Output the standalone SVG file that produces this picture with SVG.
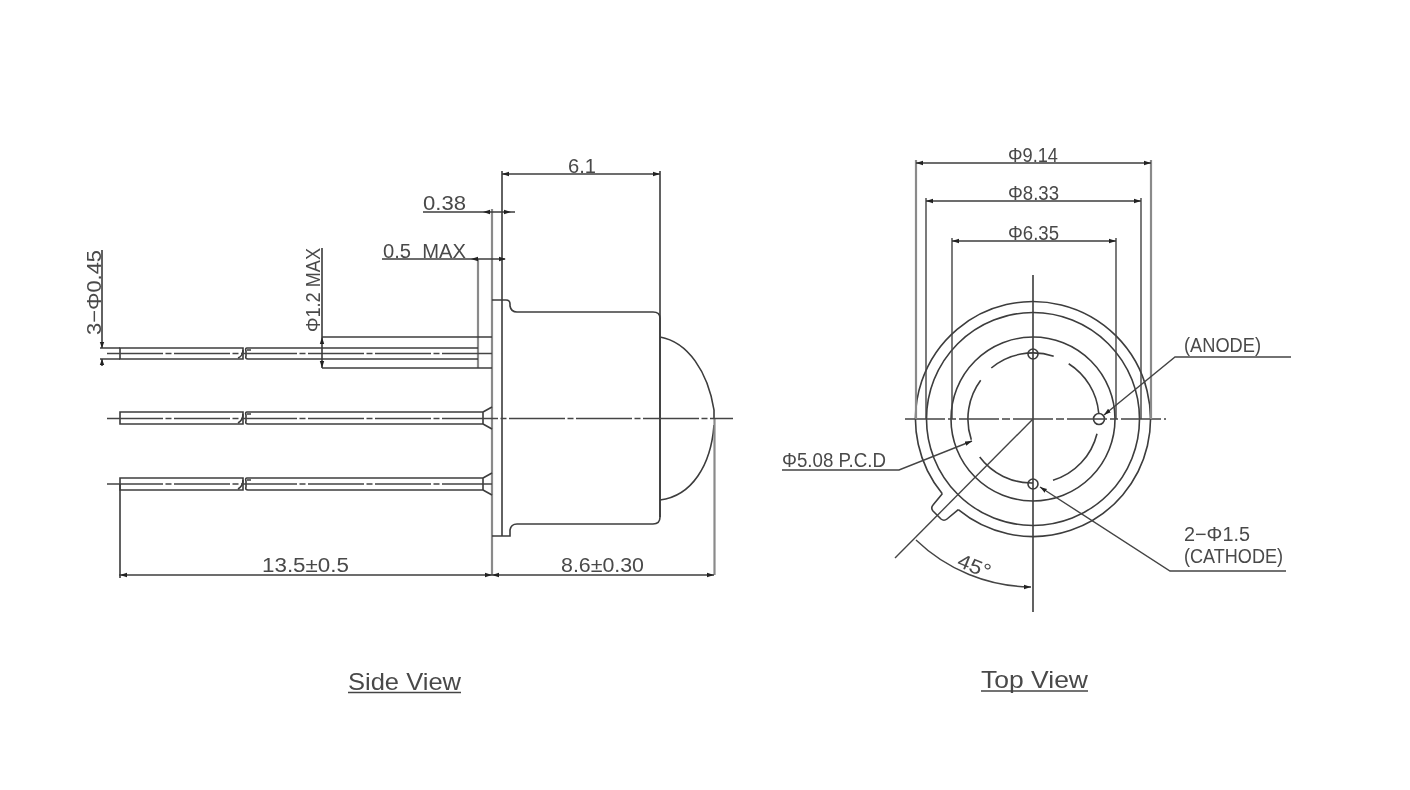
<svg xmlns="http://www.w3.org/2000/svg" width="1410" height="790" viewBox="0 0 1410 790">
<style>
.l{fill:none;stroke:#3c3c3c;stroke-width:1.6}
.g{fill:none;stroke:#8a8a8a;stroke-width:2.200}
.m{fill:none;stroke:#444;stroke-width:1.400}
.c{fill:none;stroke:#444;stroke-width:1.500;stroke-dasharray:56 2.500 6 2.500}
.h{fill:#222}
text{font-family:"Liberation Sans",Arial,sans-serif;font-size:20px;fill:#4a4a4a}
.t{font-size:24px}
</style>
<defs>
<marker id="e" viewBox="0 0 7 6" refX="7" refY="3" markerWidth="7" markerHeight="6" markerUnits="userSpaceOnUse" orient="auto"><path d="M0,0.800L7,3L0,5.200Z" fill="#222"/></marker>
<filter id="b" x="0" y="0" width="100%" height="100%"><feGaussianBlur stdDeviation="0.4"/></filter>
</defs>
<rect width="1410" height="790" fill="#fff"/>
<g filter="url(#b)">
<g id="side-view">
<g id="body">
<path class="g" d="M492,209V575M478,259V368"/>
<path class="l" d="M502,171V536M492,300H506Q510,300 510,304V306Q511,312 517,312H653Q660,312 660,318V517Q660,524 653,524H517Q511,524 510,530V536H492"/>
<path class="l" d="M660,171V517M660,337C688,342 708,372 714,410V419M714,425C711,465 692,496 660,500"/>
<path class="g" d="M714.500,419V575"/>
</g>
<g id="leads">
<path class="l" d="M120,348H243V359H120ZM478,348H247Q245,348 246,351V356Q245,359 248,359H478"/>
<path class="l" d="M120,412H243V424H120ZM483,412H247Q245,412 246,415V421Q245,424 248,424H483M483,412V424M483,412L492,407M483,424L492,429"/>
<path class="l" d="M120,478H243V490H120ZM483,478H247Q245,478 246,481V487Q245,490 248,490H483M483,478V490M483,478L492,473M483,490L492,495"/>
<path class="l" d="M238,358Q243,356 243,350M238,423Q243,420 243,414M238,489Q243,486 243,480M251,350H247M251,414H247M251,480H247"/>
<path class="l" d="M322,337H492M322,368H492"/>
</g>
<g id="center-lines">
<path class="c" d="M107,353.500H492"/>
<path class="c" d="M107,418.500H733"/>
<path class="c" d="M107,484H492"/>
</g>
</g>
<g id="side-dimensions">
<path class="l" d="M502,174H660M423,212H515M382,259H505M322,248V368"/>
<path class="h" d="M483,212l7,-2.200v4.400zM511,212l-7,-2.200v4.400zM471,259l7,-2.200v4.400zM506,259l-7,-2.200v4.400zM502,174l7,-2.200v4.400zM660,174l-7,-2.200v4.400zM322,337l-2.200,7h4.400zM322,368l-2.200,-7h4.400z"/>
<path class="l" d="M102,250V348M102,359V366M100,348H120M100,359H120"/>
<path class="h" d="M102,348l-2.200,-6h4.400zM102,359l-2.200,6h4.400z"/>
<path class="l" d="M120,484V578M119,575H714"/>
<path class="h" d="M120,575l7,-2.200v4.400zM492,575l-7,-2.200v4.400zM492,575l7,-2.200v4.400zM714,575l-7,-2.200v4.400z"/>
<text x="568" y="173" textLength="28" lengthAdjust="spacingAndGlyphs">6.1</text>
<text x="423" y="210" textLength="43" lengthAdjust="spacingAndGlyphs">0.38</text>
<text x="383" y="258" textLength="83" lengthAdjust="spacingAndGlyphs" xml:space="preserve">0.5  MAX</text>
<text transform="translate(101,335) rotate(-90)" textLength="85" lengthAdjust="spacingAndGlyphs">3−Φ0.45</text>
<text transform="translate(320,332) rotate(-90)" textLength="84" lengthAdjust="spacingAndGlyphs">Φ1.2 MAX</text>
<text x="262" y="572" textLength="87" lengthAdjust="spacingAndGlyphs">13.5±0.5</text>
<text x="561" y="572" textLength="83" lengthAdjust="spacingAndGlyphs">8.6±0.30</text>
</g>
<g id="side-title">
<text class="t" x="348" y="690" textLength="113" lengthAdjust="spacingAndGlyphs">Side View</text>
<path class="m" d="M348,692.500H461"/>
</g>
<g id="top-view">
<path class="l" d="M958.300,509.700A117.500,117.500 0 1 0 942.300,493.700"/>
<path class="l" d="M933,505Q930.500,508 933,511L941,519Q944,521.500 947,519L958.300,509.700M942.300,493.700L933,505"/>
<circle class="l" cx="1033" cy="419" r="106.500"/>
<circle class="l" cx="1033" cy="419" r="82"/>
<path class="l" d="M991.300,368A65,65 0 0 1 1053.700,356.300M1068.700,363.700A65,65 0 0 1 1098.700,413M1097,433.700A65,65 0 0 1 1053,480.300M1033,483A65,65 0 0 1 979.700,457M980.700,380.300A65,65 0 0 0 971.300,439.700"/>
<circle class="l" cx="1033" cy="354" r="5"/>
<circle class="l" cx="1099" cy="419" r="5.500"/>
<circle class="l" cx="1033" cy="484" r="5"/>
<path class="l" d="M1033,275V612"/>
<path class="c" d="M905,419H1166" style="stroke-dasharray:40 3 8 3"/>
<path class="m" d="M1033,419L895,558"/>
</g>
<g id="top-dimensions">
<path class="g" d="M916,160V419M1151,160V419"/>
<path class="m" d="M926,198V419M1141,198V419M952,238V419M1116,238V419"/>
<path class="l" d="M916,163H1151M926,201H1141M952,241H1116"/>
<path class="h" d="M916,163l7,-2.200v4.400zM1151,163l-7,-2.200v4.400zM926,201l7,-2.200v4.400zM1141,201l-7,-2.200v4.400zM952,241l7,-2.200v4.400zM1116,241l-7,-2.200v4.400z"/>
<text x="1008" y="162" textLength="50" lengthAdjust="spacingAndGlyphs">Φ9.14</text>
<text x="1008" y="200" textLength="51" lengthAdjust="spacingAndGlyphs">Φ8.33</text>
<text x="1008" y="240" textLength="51" lengthAdjust="spacingAndGlyphs">Φ6.35</text>
<path class="m" d="M1291,357H1175L1104,415" marker-end="url(#e)"/>
<text x="1184" y="352" textLength="77" lengthAdjust="spacingAndGlyphs">(ANODE)</text>
<path class="m" d="M782,470H899L972,441" marker-end="url(#e)"/>
<text x="782" y="467" textLength="104" lengthAdjust="spacingAndGlyphs">Φ5.08 P.C.D</text>
<path class="m" d="M1286,571H1170L1040,487" marker-end="url(#e)"/>
<text x="1184" y="541" textLength="66" lengthAdjust="spacingAndGlyphs">2−Φ1.5</text>
<text x="1184" y="563" textLength="99" lengthAdjust="spacingAndGlyphs">(CATHODE)</text>
<path class="m" d="M916,540A168,168 0 0 0 1031,587" marker-end="url(#e)"/>
<text transform="translate(956,566) rotate(22)" textLength="34" lengthAdjust="spacingAndGlyphs">45°</text>
</g>
<g id="top-title">
<text class="t" x="981" y="688" textLength="107" lengthAdjust="spacingAndGlyphs">Top View</text>
<path class="m" d="M981,691H1088"/>
</g>
</g>
</svg>
